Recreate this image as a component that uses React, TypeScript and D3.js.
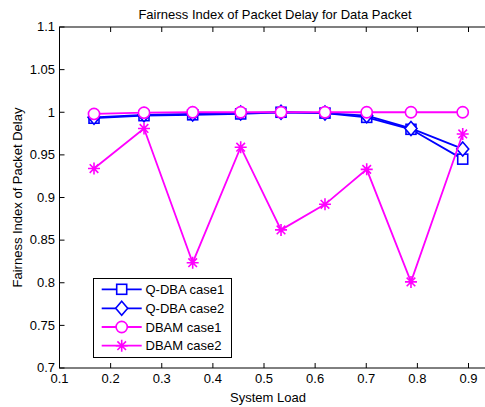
import React from "react";
import * as d3 from "d3";

const W = 485;
const H = 407;

const loads = [0.1675, 0.2653, 0.3605, 0.4544, 0.5333, 0.6193, 0.7009, 0.7875, 0.8887];
const qdbaCase1 = [0.993, 0.996, 0.997, 0.998, 1.0, 0.999, 0.994, 0.98, 0.945];
const qdbaCase2 = [0.994, 0.997, 0.998, 0.999, 1.0, 0.999, 0.996, 0.981, 0.957];
const dbamCase1 = [0.998, 0.9995, 1.0, 1.0, 1.0, 1.0, 1.0, 1.0, 1.0];
const dbamCase2 = [0.934, 0.981, 0.8235, 0.959, 0.862, 0.892, 0.933, 0.801, 0.9745];

const xTicks = [0.1, 0.2, 0.3, 0.4, 0.5, 0.6, 0.7, 0.8, 0.9];
const yTicks = [0.7, 0.75, 0.8, 0.85, 0.9, 0.95, 1, 1.05, 1.1];
const seriesNames = ["Q-DBA case1", "Q-DBA case2", "DBAM case1", "DBAM case2"];

const BLUE = "#0000ff";
const MAGENTA = "#ff00ff";
const FONT = "'Liberation Sans', Arial, sans-serif";

type Marker = "square" | "diamond" | "circle" | "star";

const series: { name: string; values: number[]; color: string; marker: Marker }[] = [
  { name: seriesNames[0], values: qdbaCase1, color: BLUE, marker: "square" },
  { name: seriesNames[1], values: qdbaCase2, color: BLUE, marker: "diamond" },
  { name: seriesNames[2], values: dbamCase1, color: MAGENTA, marker: "circle" },
  { name: seriesNames[3], values: dbamCase2, color: MAGENTA, marker: "star" },
];

const left = 59.5;
const top = 27;
const bottom = 368;
const frameRight = 490;

const x = d3.scaleLinear().domain([0.1, 0.9]).range([left, 468.5]);
const y = d3.scaleLinear().domain([0.7, 1.1]).range([bottom, top]);

function MarkerShape({ kind, cx, cy, color }: { kind: Marker; cx: number; cy: number; color: string }) {
  const sw = 1.6;
  if (kind === "square")
    return <rect x={cx - 5} y={cy - 5} width={10} height={10} fill="#fff" stroke={color} strokeWidth={sw} />;
  if (kind === "diamond")
    return (
      <path
        d={`M${cx},${cy - 7}L${cx + 6},${cy}L${cx},${cy + 7}L${cx - 6},${cy}Z`}
        fill="#fff"
        stroke={color}
        strokeWidth={sw}
      />
    );
  if (kind === "circle") return <circle cx={cx} cy={cy} r={5.6} fill="#fff" stroke={color} strokeWidth={sw} />;
  const r = 6;
  const d = 4.3;
  return (
    <path
      d={`M${cx - r},${cy}L${cx + r},${cy}M${cx},${cy - r}L${cx},${cy + r}M${cx - d},${cy - d}L${cx + d},${cy + d}M${cx - d},${cy + d}L${cx + d},${cy - d}`}
      stroke={color}
      strokeWidth={sw}
      fill="none"
    />
  );
}

export default function App() {
  const line = d3
    .line<number>()
    .x((_, i) => x(loads[i]))
    .y((v) => y(v));

  const legendX = 93.5;
  const legendY = 278.5;
  const legendW = 138;
  const legendH = 79;
  const rowYs = [289.3, 308.3, 327, 345.7];

  return (
    <svg
      width={W}
      height={H}
      style={{ position: "absolute", left: 0, top: 0, background: "#fff" }}
      fontFamily={FONT}
    >
      <rect x={0} y={0} width={W} height={H} fill="#fff" />
      {/* frame */}
      <rect x={left} y={top} width={frameRight - left} height={bottom - top} fill="#fff" stroke="#000" strokeWidth={1} />
      {/* x ticks */}
      {xTicks.map((t) => (
        <g key={"x" + t}>
          <line x1={x(t)} x2={x(t)} y1={bottom} y2={bottom - 5} stroke="#000" />
          <line x1={x(t)} x2={x(t)} y1={top} y2={top + 5} stroke="#000" />
          <text x={x(t)} y={383} fontSize={13} textAnchor="middle" fill="#000">
            {d3.format("")(t)}
          </text>
        </g>
      ))}
      {/* y ticks */}
      {yTicks.map((t) => (
        <g key={"y" + t}>
          <line x1={left} x2={left + 5} y1={y(t)} y2={y(t)} stroke="#000" />
          <text x={55} y={y(t) + 4.3} fontSize={13} textAnchor="end" fill="#000">
            {d3.format("")(+t.toFixed(2))}
          </text>
        </g>
      ))}
      {/* series */}
      {series.map((s) => (
        <g key={s.name}>
          <path d={line(s.values) || ""} fill="none" stroke={s.color} strokeWidth={1.8} />
          {s.values.map((v, i) => (
            <MarkerShape key={i} kind={s.marker} cx={x(loads[i])} cy={y(v)} color={s.color} />
          ))}
        </g>
      ))}
      {/* title & labels */}
      <text x={275} y={19} fontSize={13} textAnchor="middle" fill="#000">
        Fairness Index of Packet Delay for Data Packet
      </text>
      <text x={268} y={402} fontSize={13} textAnchor="middle" fill="#000">
        System Load
      </text>
      <text
        transform={`translate(21.5,${(top + bottom) / 2}) rotate(-90)`}
        fontSize={13}
        textAnchor="middle"
        fill="#000"
      >
        Fairness Index of Packet Delay
      </text>
      {/* legend */}
      <rect x={legendX} y={legendY} width={legendW} height={legendH} fill="#fff" stroke="#000" strokeWidth={1} />
      {series.map((s, i) => (
        <g key={"lg" + s.name}>
          <line x1={101.7} x2={141.7} y1={rowYs[i]} y2={rowYs[i]} stroke={s.color} strokeWidth={1.8} />
          <MarkerShape kind={s.marker} cx={121.7} cy={rowYs[i]} color={s.color} />
          <text x={145.5} y={rowYs[i] + 4.5} fontSize={13} fill="#000">
            {s.name}
          </text>
        </g>
      ))}
    </svg>
  );
}
